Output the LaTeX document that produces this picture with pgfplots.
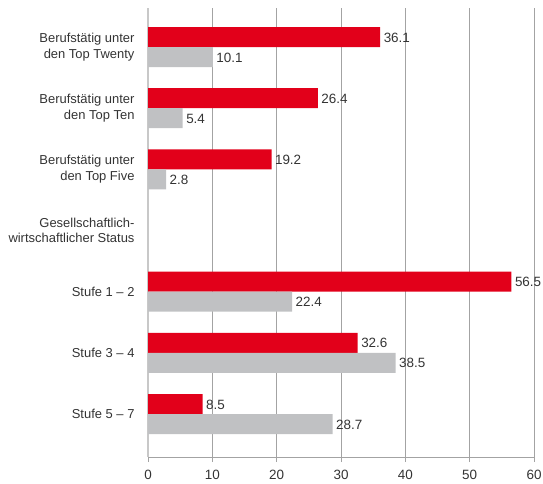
\documentclass[border=0pt]{standalone}
\usepackage{pgfplots}
\pgfplotsset{compat=1.18}
\usepackage{fontspec}
\setmainfont{Liberation Sans}
\definecolor{cred}{HTML}{E2001A}
\definecolor{cgrey}{HTML}{C0C1C3}
\definecolor{cgrid}{HTML}{A3A3A3}
\definecolor{ctext}{HTML}{333333}
\begin{document}
\begin{tikzpicture}
\begin{axis}[
  scale only axis,
  width=386bp, height=449bp,
  xbar, bar width=20bp,
  xmin=0, xmax=60,
  ymin=-0.703, ymax=6.638,
  xtick={0,10,...,60},
  ytick={0,1,2,3,4,5,6},
  yticklabels={Stufe 5 -- 7, Stufe 3 -- 4, Stufe 1 -- 2, {Gesellschaftlich-\\wirtschaftlicher Status}, {Berufstätig unter\\den Top Five}, {Berufstätig unter\\den Top Ten}, {Berufstätig unter\\den Top Twenty}},
  yticklabel style={align=right, font=\fontsize{13}{15.5}\selectfont, text=ctext, xshift=-5bp},
  xticklabel style={font=\fontsize{13.5}{16}\selectfont, text=ctext},
  /pgf/number format/assume math mode=true,
  major y tick style={draw=none},
  xmajorgrids, grid style={cgrid, line width=0.8bp},
  axis x line*=bottom, axis y line*=left,
  x axis line style={cgrid, line width=0.8bp, -},
  y axis line style={cgrid!60, line width=1.5bp, -},
  xtick style={cgrid, line width=0.8bp},
  tick align=outside, major tick length=5bp,
  xticklabel shift=5bp,
  nodes near coords,
  nodes near coords style={font=\fontsize{13.5}{16}\selectfont, text=ctext, anchor=west, xshift=0bp, yshift=-0.5bp,
    /pgf/number format/fixed, /pgf/number format/precision=1, /pgf/number format/fixed zerofill, /pgf/number format/assume math mode=true},
]
\addplot[fill=cred, draw=none, bar shift=10bp] coordinates {(36.1,6) (26.4,5) (19.2,4) (56.5,2) (32.6,1) (8.5,0)};
\addplot[fill=cgrey, draw=none, bar shift=-10bp] coordinates {(10.1,6) (5.4,5) (2.8,4) (22.4,2) (38.5,1) (28.7,0)};
\end{axis}
\pgfresetboundingbox
\path (current axis.south west) ++(-148bp,-26bp) coordinate (bl);
\path (current axis.north east) ++(9bp,8bp) coordinate (tr);
\path[use as bounding box] (bl) rectangle (tr);
\end{tikzpicture}
\end{document}
